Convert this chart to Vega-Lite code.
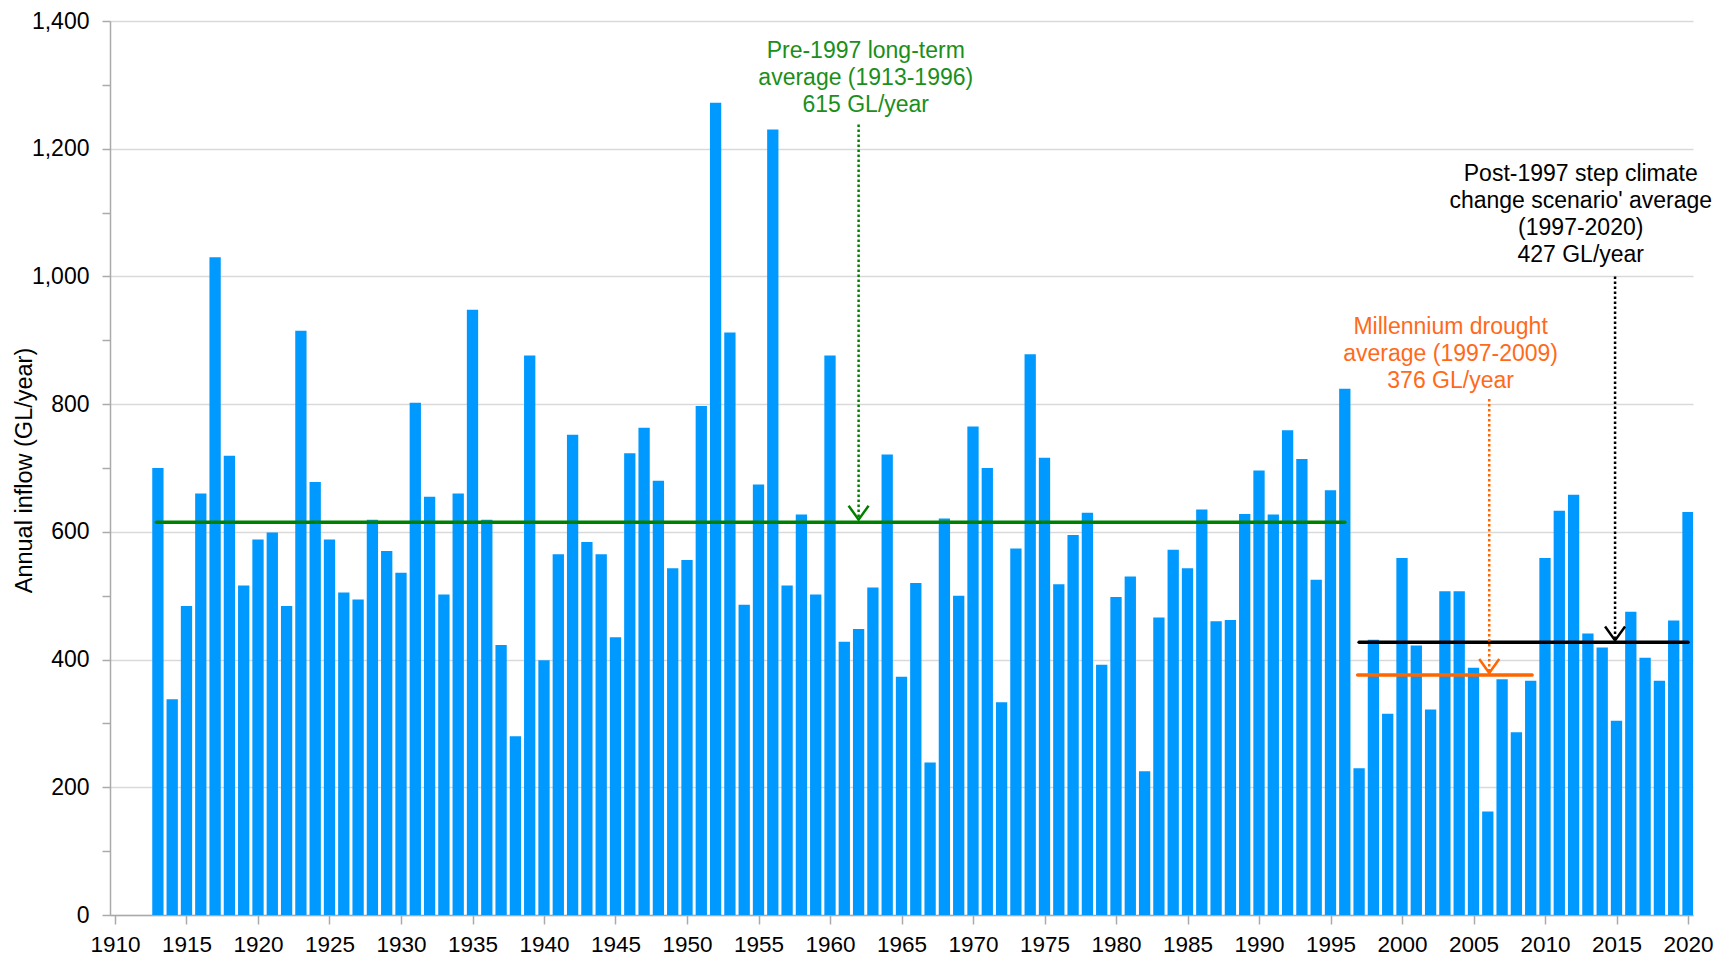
{
  "$schema": "https://vega.github.io/schema/vega-lite/v6.json",
  "width": 1583,
  "height": 894,
  "autosize": {"type": "none"},
  "padding": {"left": 110, "top": 21, "right": 30, "bottom": 41},
  "background": "white",
  "config": {"view": {"stroke": null}, "font": "Liberation Sans"},
  "datasets": {
    "inflow": [
      {"year": 1913, "inflow": 700}, {"year": 1914, "inflow": 338}, {"year": 1915, "inflow": 484}, {"year": 1916, "inflow": 660},
      {"year": 1917, "inflow": 1030}, {"year": 1918, "inflow": 719}, {"year": 1919, "inflow": 516}, {"year": 1920, "inflow": 588},
      {"year": 1921, "inflow": 599}, {"year": 1922, "inflow": 484}, {"year": 1923, "inflow": 915}, {"year": 1924, "inflow": 678},
      {"year": 1925, "inflow": 588}, {"year": 1926, "inflow": 505}, {"year": 1927, "inflow": 494}, {"year": 1928, "inflow": 619},
      {"year": 1929, "inflow": 570}, {"year": 1930, "inflow": 536}, {"year": 1931, "inflow": 802}, {"year": 1932, "inflow": 655},
      {"year": 1933, "inflow": 502}, {"year": 1934, "inflow": 660}, {"year": 1935, "inflow": 948}, {"year": 1936, "inflow": 619},
      {"year": 1937, "inflow": 423}, {"year": 1938, "inflow": 280}, {"year": 1939, "inflow": 876}, {"year": 1940, "inflow": 399},
      {"year": 1941, "inflow": 565}, {"year": 1942, "inflow": 752}, {"year": 1943, "inflow": 584}, {"year": 1944, "inflow": 565},
      {"year": 1945, "inflow": 435}, {"year": 1946, "inflow": 723}, {"year": 1947, "inflow": 763}, {"year": 1948, "inflow": 680},
      {"year": 1949, "inflow": 543}, {"year": 1950, "inflow": 556}, {"year": 1951, "inflow": 797}, {"year": 1952, "inflow": 1272},
      {"year": 1953, "inflow": 912}, {"year": 1954, "inflow": 486}, {"year": 1955, "inflow": 674}, {"year": 1956, "inflow": 1230},
      {"year": 1957, "inflow": 516}, {"year": 1958, "inflow": 627}, {"year": 1959, "inflow": 502}, {"year": 1960, "inflow": 876},
      {"year": 1961, "inflow": 428}, {"year": 1962, "inflow": 448}, {"year": 1963, "inflow": 513}, {"year": 1964, "inflow": 721},
      {"year": 1965, "inflow": 373}, {"year": 1966, "inflow": 520}, {"year": 1967, "inflow": 239}, {"year": 1968, "inflow": 621},
      {"year": 1969, "inflow": 500}, {"year": 1970, "inflow": 765}, {"year": 1971, "inflow": 700}, {"year": 1972, "inflow": 333},
      {"year": 1973, "inflow": 574}, {"year": 1974, "inflow": 878}, {"year": 1975, "inflow": 716}, {"year": 1976, "inflow": 518},
      {"year": 1977, "inflow": 595}, {"year": 1978, "inflow": 630}, {"year": 1979, "inflow": 392}, {"year": 1980, "inflow": 498},
      {"year": 1981, "inflow": 530}, {"year": 1982, "inflow": 225}, {"year": 1983, "inflow": 466}, {"year": 1984, "inflow": 572},
      {"year": 1985, "inflow": 543}, {"year": 1986, "inflow": 635}, {"year": 1987, "inflow": 460}, {"year": 1988, "inflow": 462},
      {"year": 1989, "inflow": 628}, {"year": 1990, "inflow": 696}, {"year": 1991, "inflow": 627}, {"year": 1992, "inflow": 759},
      {"year": 1993, "inflow": 714}, {"year": 1994, "inflow": 525}, {"year": 1995, "inflow": 665}, {"year": 1996, "inflow": 824},
      {"year": 1997, "inflow": 230}, {"year": 1998, "inflow": 431}, {"year": 1999, "inflow": 315}, {"year": 2000, "inflow": 559},
      {"year": 2001, "inflow": 422}, {"year": 2002, "inflow": 322}, {"year": 2003, "inflow": 507}, {"year": 2004, "inflow": 507},
      {"year": 2005, "inflow": 387}, {"year": 2006, "inflow": 162}, {"year": 2007, "inflow": 369}, {"year": 2008, "inflow": 286},
      {"year": 2009, "inflow": 367}, {"year": 2010, "inflow": 559}, {"year": 2011, "inflow": 633}, {"year": 2012, "inflow": 658},
      {"year": 2013, "inflow": 441}, {"year": 2014, "inflow": 419}, {"year": 2015, "inflow": 304}, {"year": 2016, "inflow": 475},
      {"year": 2017, "inflow": 403}, {"year": 2018, "inflow": 367}, {"year": 2019, "inflow": 461}, {"year": 2020, "inflow": 631}
    ],
    "averages": [
      {"period": "pre", "start": 1912.9, "end": 1996, "avg": 615},
      {"period": "drought", "start": 1996.9, "end": 2009.1, "avg": 376},
      {"period": "post", "start": 1997, "end": 2020, "avg": 427}
    ],
    "arrows": [
      {"period": "pre", "year": 1962, "from": 1238, "to": 619},
      {"period": "drought", "year": 2006.1, "from": 808, "to": 379},
      {"period": "post", "year": 2014.9, "from": 1000, "to": 430}
    ],
    "notes": [
      {"period": "pre", "x": 1962.5, "y": 1342, "label": ["Pre-1997 long-term", "average (1913-1996)", "615 GL/year"]},
      {"period": "drought", "x": 2003.4, "y": 910, "label": ["Millennium drought", "average (1997-2009)", "376 GL/year"]},
      {"period": "post", "x": 2012.5, "y": 1150, "label": ["Post-1997 step climate", "change scenario' average", "(1997-2020)", "427 GL/year"]}
    ]
  },
  "resolve": {"scale": {"color": "independent"}},
  "layer": [
    {
      "data": {"name": "inflow"},
      "mark": {"type": "bar", "width": 11.3, "color": "#0099ff", "clip": true},
      "encoding": {
        "x": {"field": "year", "type": "quantitative", "title": null,
          "scale": {"domain": [1910, 2020], "nice": false, "zero": false},
          "axis": {
            "values": [1910, 1915, 1920, 1925, 1930, 1935, 1940, 1945, 1950, 1955, 1960, 1965, 1970, 1975, 1980, 1985, 1990, 1995, 2000, 2005, 2010, 2015, 2020],
            "format": "d", "grid": false, "labelFlush": false, "labelOverlap": false,
            "labelFontSize": 22.5, "labelColor": "#000", "labelFont": "Liberation Sans",
            "tickSize": 9, "tickColor": "#aaaaaa", "tickWidth": 1.5,
            "domainColor": "#aaaaaa", "domainWidth": 1.5, "labelPadding": 9
          }},
        "y": {"field": "inflow", "type": "quantitative", "title": "Annual inflow (GL/year)",
          "scale": {"domain": [0, 1400], "nice": false},
          "axis": {
            "values": [0, 100, 200, 300, 400, 500, 600, 700, 800, 900, 1000, 1100, 1200, 1300, 1400],
            "labelExpr": "datum.value % 200 == 0 ? format(datum.value, ',') : ''",
            "labelOverlap": false,
            "gridOpacity": {"condition": {"test": "datum.value % 200 == 0", "value": 1}, "value": 0},
            "gridColor": "#d9d9d9", "gridWidth": 1.3,
            "labelFontSize": 23, "labelColor": "#000", "labelFont": "Liberation Sans", "labelPadding": 13,
            "tickSize": 8, "tickColor": "#aaaaaa", "tickWidth": 1.5,
            "domainColor": "#aaaaaa", "domainWidth": 1.5,
            "titleFontSize": 23.5, "titleFontWeight": "normal",
            "titleFont": "Liberation Sans", "titleColor": "#000",
            "titleX": -86, "titleY": 449, "titleBaseline": "middle", "titleAngle": 270
          }}
      }
    },
    {
      "data": {"name": "averages"},
      "mark": {"type": "rule", "strokeWidth": 3.5, "strokeCap": "round"},
      "encoding": {
        "x": {"field": "start", "type": "quantitative", "title": null},
        "x2": {"field": "end"},
        "y": {"field": "avg", "type": "quantitative", "title": "Annual inflow (GL/year)"},
        "color": {"field": "period", "type": "nominal", "legend": null,
          "scale": {"domain": ["pre", "drought", "post"], "range": ["#008000", "#ff6600", "#000000"]}}
      }
    },
    {
      "data": {"name": "arrows"},
      "mark": {"type": "rule", "strokeWidth": 2.5, "strokeDash": [2.5, 2.5]},
      "encoding": {
        "x": {"field": "year", "type": "quantitative", "title": null},
        "y": {"field": "from", "type": "quantitative", "title": "Annual inflow (GL/year)"},
        "y2": {"field": "to"},
        "color": {"field": "period", "type": "nominal", "legend": null,
          "scale": {"domain": ["pre", "drought", "post"], "range": ["#008000", "#ff6600", "#000000"]}}
      }
    },
    {
      "data": {"name": "arrows"},
      "mark": {"type": "point", "shape": "M-1,-1.4L0,0L1,-1.4", "size": 400, "filled": false, "strokeWidth": 2.5, "opacity": 1},
      "encoding": {
        "x": {"field": "year", "type": "quantitative", "title": null},
        "y": {"field": "to", "type": "quantitative", "title": "Annual inflow (GL/year)"},
        "color": {"field": "period", "type": "nominal", "legend": null,
          "scale": {"domain": ["pre", "drought", "post"], "range": ["#008000", "#ff6600", "#000000"]}}
      }
    },
    {
      "data": {"name": "notes"},
      "mark": {"type": "text", "align": "center", "baseline": "alphabetic", "fontSize": 23, "lineHeight": 27, "font": "Liberation Sans"},
      "encoding": {
        "x": {"field": "x", "type": "quantitative", "title": null},
        "y": {"field": "y", "type": "quantitative", "title": "Annual inflow (GL/year)"},
        "text": {"field": "label", "type": "nominal"},
        "color": {"field": "period", "type": "nominal", "legend": null,
          "scale": {"domain": ["pre", "drought", "post"], "range": ["#1a8f1a", "#ff6a1a", "#000000"]}}
      }
    }
  ]
}
